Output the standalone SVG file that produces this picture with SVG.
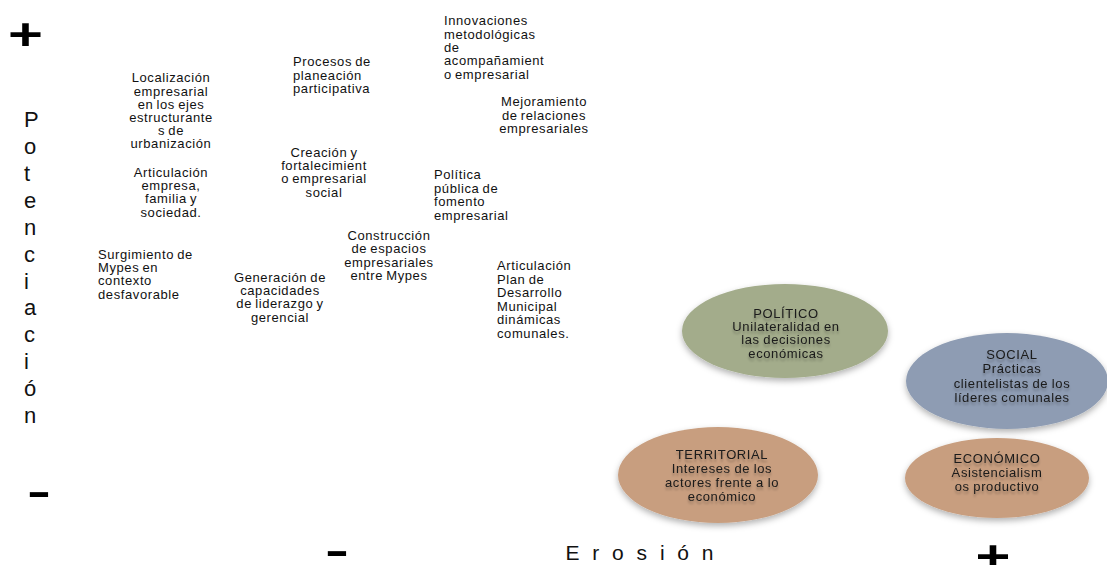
<svg xmlns="http://www.w3.org/2000/svg" width="1107" height="565" viewBox="0 0 1107 565">
  <defs>
    <filter id="shadow" x="-20%" y="-20%" width="140%" height="150%">
      <feDropShadow dx="0" dy="3" stdDeviation="3" flood-color="#000" flood-opacity="0.3"/>
    </filter>
    <filter id="tshadow" x="-10%" y="-30%" width="120%" height="180%">
      <feDropShadow dx="0" dy="3" stdDeviation="1.2" flood-color="#000" flood-opacity="0.25"/>
    </filter>
  </defs>
  <style>
    .t { font-family: "Liberation Sans", Arial, sans-serif; font-size: 13px; fill: #111; letter-spacing: 0.6px; word-spacing: -1px; }
    .c { text-anchor: middle; }
    .ax { font-family: "Liberation Sans", Arial, sans-serif; fill: #111; }
    .sym { font-family: "Liberation Sans", Arial, sans-serif; font-weight: bold; font-size: 44px; fill: #000; }
    .dash { font-family: "Liberation Sans", Arial, sans-serif; font-weight: bold; font-size: 40px; fill: #000; }
    .el { filter: url(#shadow); }
    .et { font-family: "Liberation Sans", Arial, sans-serif; font-size: 13px; fill: #1a1a1a; letter-spacing: 0.6px; word-spacing: -0.5px; text-anchor: middle; filter: url(#tshadow); }
  </style>
  <rect width="1107" height="565" fill="#ffffff"/>

  <!-- axes -->
  <g id="axes">
    <text class="sym" transform="translate(8,50) scale(1.36,1)">+</text>
    <text class="dash" transform="translate(27,505) scale(1.8,1)">-</text>
    <text class="dash" transform="translate(325,563.5) scale(1.8,1)">-</text>
    <text class="sym" transform="translate(975.5,572) scale(1.36,1)">+</text>
    <text class="ax" x="565.5" y="560" font-size="21" letter-spacing="12.8">Erosión</text>
    <g id="potenciacion" class="ax" font-size="22">
      <text x="24" y="127">P</text>
      <text x="24" y="154">o</text>
      <text x="24" y="181">t</text>
      <text x="24" y="208">e</text>
      <text x="24" y="235">n</text>
      <text x="24" y="262">c</text>
      <text x="24" y="289">i</text>
      <text x="24" y="315">a</text>
      <text x="24" y="342">c</text>
      <text x="24" y="369">i</text>
      <text x="24" y="396">ó</text>
      <text x="24" y="423">n</text>
    </g>
  </g>

  <g id="connectors"></g>

  <g id="n-localizacion" class="t c">
    <text x="171" y="82">Localización</text>
    <text x="171" y="95.5">empresarial</text>
    <text x="171" y="108.5">en los ejes</text>
    <text x="171" y="121.5">estructurante</text>
    <text x="171" y="135">s de</text>
    <text x="171" y="148">urbanización</text>
  </g>

  <g id="n-articulacion-empresa" class="t c">
    <text x="171" y="176.5">Articulación</text>
    <text x="171" y="190">empresa,</text>
    <text x="171" y="203">familia y</text>
    <text x="171" y="216.5">sociedad.</text>
  </g>

  <g id="n-surgimiento" class="t">
    <text x="98" y="258.5">Surgimiento de</text>
    <text x="98" y="272">Mypes en</text>
    <text x="98" y="285">contexto</text>
    <text x="98" y="298.5">desfavorable</text>
  </g>

  <g id="n-procesos" class="t">
    <text x="293" y="66">Procesos de</text>
    <text x="293" y="79.5">planeación</text>
    <text x="293" y="93">participativa</text>
  </g>

  <g id="n-creacion" class="t c">
    <text x="324" y="156.5">Creación y</text>
    <text x="324" y="170">fortalecimient</text>
    <text x="324" y="183">o empresarial</text>
    <text x="324" y="196.5">social</text>
  </g>

  <g id="n-construccion" class="t c">
    <text x="389" y="240">Construcción</text>
    <text x="389" y="253">de espacios</text>
    <text x="389" y="266.5">empresariales</text>
    <text x="389" y="280">entre Mypes</text>
  </g>

  <g id="n-generacion" class="t c">
    <text x="280" y="281.5">Generación de</text>
    <text x="280" y="295">capacidades</text>
    <text x="280" y="308">de liderazgo y</text>
    <text x="280" y="321.5">gerencial</text>
  </g>

  <g id="n-innovaciones" class="t">
    <text x="444" y="25">Innovaciones</text>
    <text x="444" y="38.5">metodológicas</text>
    <text x="444" y="51.5">de</text>
    <text x="444" y="65">acompañamient</text>
    <text x="444" y="78.5">o empresarial</text>
  </g>

  <g id="n-mejoramiento" class="t c">
    <text x="544" y="106">Mejoramiento</text>
    <text x="544" y="119.5">de relaciones</text>
    <text x="544" y="133">empresariales</text>
  </g>

  <g id="n-politica-publica" class="t">
    <text x="434" y="179">Política</text>
    <text x="434" y="192.5">pública de</text>
    <text x="434" y="206">fomento</text>
    <text x="434" y="219.5">empresarial</text>
  </g>

  <g id="n-articulacion-plan" class="t">
    <text x="497" y="270">Articulación</text>
    <text x="497" y="283.5">Plan de</text>
    <text x="497" y="297">Desarrollo</text>
    <text x="497" y="310.5">Municipal</text>
    <text x="497" y="324">dinámicas</text>
    <text x="497" y="337.5">comunales.</text>
  </g>

  <g id="n-politico">
    <ellipse class="el" cx="785" cy="331" rx="103" ry="47" fill="#a3ac8b"/>
    <text class="et" x="786" y="317.5">POLÍTICO</text>
    <text class="et" x="786" y="331">Unilateralidad en</text>
    <text class="et" x="786" y="344">las decisiones</text>
    <text class="et" x="786" y="357.5">económicas</text>
  </g>

  <g id="n-social">
    <ellipse class="el" cx="1007" cy="381" rx="101" ry="48" fill="#8e9cb3"/>
    <text class="et" x="1012" y="358.5">SOCIAL</text>
    <text class="et" x="1012" y="373">Prácticas</text>
    <text class="et" x="1012" y="388">clientelistas de los</text>
    <text class="et" x="1012" y="402">líderes comunales</text>
  </g>

  <g id="n-territorial">
    <ellipse class="el" cx="718" cy="475" rx="100" ry="48" fill="#c89e7f"/>
    <text class="et" x="722" y="458.5">TERRITORIAL</text>
    <text class="et" x="722" y="473">Intereses de los</text>
    <text class="et" x="722" y="487">actores frente a lo</text>
    <text class="et" x="722" y="500.5">económico</text>
  </g>

  <g id="n-economico">
    <ellipse class="el" cx="997" cy="478" rx="92" ry="40" fill="#c89e7f"/>
    <text class="et" x="997" y="463">ECONÓMICO</text>
    <text class="et" x="997" y="477">Asistencialism</text>
    <text class="et" x="997" y="491">os productivo</text>
  </g>
</svg>
